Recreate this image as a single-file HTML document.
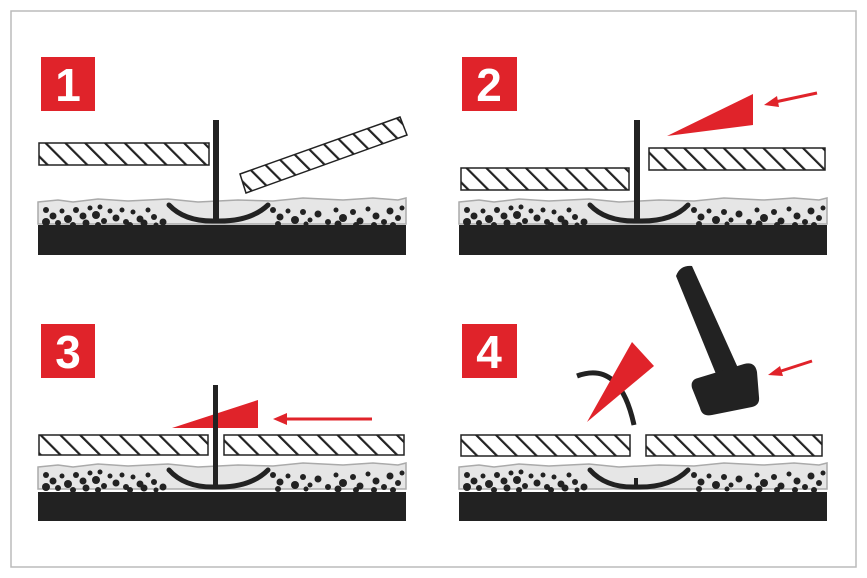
<!DOCTYPE html>
<html><head><meta charset="utf-8"><style>html,body{margin:0;padding:0;background:#fff}svg{display:block}</style></head>
<body>
<svg width="867" height="578" viewBox="0 0 867 578" xmlns="http://www.w3.org/2000/svg">
<defs>
<pattern id="h" patternUnits="userSpaceOnUse" width="14" height="14" patternTransform="rotate(-45)">
<rect width="14" height="14" fill="#fff"/><line x1="1" y1="0" x2="1" y2="14" stroke="#222" stroke-width="2.4"/>
</pattern>
<g id="gravel">
<path d="M0,0 l20,-2 l15,2 l25,-3 l30,2 l40,-2 l30,3 l40,-2 l35,1 l30,-3 l40,2 l30,-2 l25,2 l8,-2 l0,26 l-368,0z" fill="#e6e6e6" stroke="#aaa" stroke-width="1.5"/>
<g fill="#222">
<circle cx="8" cy="8" r="3"/><circle cx="15" cy="14" r="3.5"/><circle cx="24" cy="9" r="2.5"/><circle cx="30" cy="17" r="4"/><circle cx="38" cy="8" r="3"/><circle cx="45" cy="14" r="3.5"/><circle cx="52" cy="6" r="2.5"/><circle cx="58" cy="13" r="4"/><circle cx="66" cy="19" r="3"/><circle cx="72" cy="9" r="2.5"/><circle cx="78" cy="16" r="3.5"/><circle cx="88" cy="20" r="3"/><circle cx="95" cy="10" r="2.5"/><circle cx="102" cy="17" r="3.5"/><circle cx="110" cy="8" r="2.5"/><circle cx="116" cy="15" r="3"/><circle cx="125" cy="20" r="3.5"/>
<circle cx="8" cy="20" r="4"/><circle cx="20" cy="21" r="3"/><circle cx="48" cy="21" r="3.5"/><circle cx="62" cy="5" r="2.5"/><circle cx="84" cy="8" r="2.5"/><circle cx="106" cy="21" r="3.5"/><circle cx="118" cy="23" r="2.5"/><circle cx="35" cy="23" r="3"/><circle cx="60" cy="23" r="3"/><circle cx="92" cy="23" r="3"/>
<circle cx="235" cy="8" r="3"/><circle cx="242" cy="15" r="3.5"/><circle cx="250" cy="9" r="2.5"/><circle cx="257" cy="18" r="4"/><circle cx="265" cy="10" r="3"/><circle cx="272" cy="18" r="2.5"/><circle cx="280" cy="12" r="3.5"/><circle cx="290" cy="20" r="3"/><circle cx="298" cy="8" r="2.5"/><circle cx="305" cy="16" r="4"/><circle cx="315" cy="10" r="3"/><circle cx="322" cy="19" r="3.5"/><circle cx="330" cy="7" r="2.5"/><circle cx="338" cy="14" r="3.5"/><circle cx="346" cy="20" r="3"/><circle cx="352" cy="9" r="3.5"/><circle cx="360" cy="16" r="3"/><circle cx="364" cy="6" r="2.5"/>
<circle cx="240" cy="22" r="3"/><circle cx="268" cy="22" r="2.5"/><circle cx="300" cy="22" r="3.5"/><circle cx="336" cy="23" r="3"/><circle cx="318" cy="23" r="3"/><circle cx="355" cy="23" r="3"/>
</g>
</g>
</defs>
<rect x="11" y="11" width="845" height="556" fill="#fff" stroke="#bbb" stroke-width="1.5"/>

<!-- Panel 1 -->
<rect x="41" y="57" width="54" height="54" fill="#e0232a"/>
<text x="68" y="101" font-family="Liberation Sans, sans-serif" font-weight="bold" font-size="46" fill="#fff" text-anchor="middle">1</text>
<use href="#gravel" x="38" y="202"/>
<rect x="38" y="225" width="368" height="30" fill="#222"/>
<rect x="39" y="143" width="170" height="22" fill="url(#h)" stroke="#222" stroke-width="1.5"/>
<polygon points="240,174 400,117 407,135 246,193" fill="url(#h)" stroke="#222" stroke-width="1.5"/>
<path d="M169,205 Q185,222 216,221 Q250,222 268,205" fill="none" stroke="#222" stroke-width="5" stroke-linecap="round"/>
<rect x="213" y="120" width="6" height="102" fill="#222"/>

<!-- Panel 2 -->
<rect x="462" y="57" width="55" height="54" fill="#e0232a"/>
<text x="489" y="101" font-family="Liberation Sans, sans-serif" font-weight="bold" font-size="46" fill="#fff" text-anchor="middle">2</text>
<use href="#gravel" x="459" y="202"/>
<rect x="459" y="225" width="368" height="30" fill="#222"/>
<rect x="461" y="168" width="168" height="22" fill="url(#h)" stroke="#222" stroke-width="1.5"/>
<rect x="649" y="148" width="176" height="22" fill="url(#h)" stroke="#222" stroke-width="1.5"/>
<path d="M590,205 Q606,222 638,221 Q672,222 688,205" fill="none" stroke="#222" stroke-width="5" stroke-linecap="round"/>
<rect x="634" y="120" width="6" height="102" fill="#222"/>
<polygon points="667,136 753,94 753,125" fill="#e0232a"/>
<line x1="817" y1="93" x2="775" y2="102" stroke="#e0232a" stroke-width="3"/>
<polygon points="764,105 777,96 779,107" fill="#e0232a"/>

<!-- Panel 3 -->
<rect x="41" y="324" width="54" height="54" fill="#e0232a"/>
<text x="68" y="368" font-family="Liberation Sans, sans-serif" font-weight="bold" font-size="46" fill="#fff" text-anchor="middle">3</text>
<use href="#gravel" x="38" y="467"/>
<rect x="38" y="492" width="368" height="29" fill="#222"/>
<rect x="39" y="435" width="169" height="20" fill="url(#h)" stroke="#222" stroke-width="1.5"/>
<rect x="224" y="435" width="180" height="20" fill="url(#h)" stroke="#222" stroke-width="1.5"/>
<path d="M169,470 Q185,488 216,487 Q250,488 268,470" fill="none" stroke="#222" stroke-width="5" stroke-linecap="round"/>
<polygon points="172,428 258,400 258,428" fill="#e0232a"/>
<rect x="213" y="385" width="5" height="104" fill="#222"/>
<line x1="372" y1="419" x2="285" y2="419" stroke="#e0232a" stroke-width="3"/>
<polygon points="273,419 287,413 287,425" fill="#e0232a"/>

<!-- Panel 4 -->
<rect x="462" y="324" width="55" height="54" fill="#e0232a"/>
<text x="489" y="368" font-family="Liberation Sans, sans-serif" font-weight="bold" font-size="46" fill="#fff" text-anchor="middle">4</text>
<use href="#gravel" x="459" y="467"/>
<rect x="459" y="492" width="368" height="29" fill="#222"/>
<rect x="461" y="435" width="169" height="21" fill="url(#h)" stroke="#222" stroke-width="1.5"/>
<rect x="646" y="435" width="176" height="21" fill="url(#h)" stroke="#222" stroke-width="1.5"/>
<path d="M590,470 Q606,488 636,487 Q670,488 688,470" fill="none" stroke="#222" stroke-width="5" stroke-linecap="round"/>
<rect x="634" y="478" width="4" height="9" fill="#222"/>
<path d="M577,376 Q620,360 634,425" fill="none" stroke="#222" stroke-width="5"/>
<polygon points="587,422 632,342 654,366" fill="#e0232a"/>
<path d="M676,276 Q680,265 692,266 L738,368 L716,374z" fill="#222"/>
<path d="M698,378 L744,364 Q755,361 757,372 L759,397 Q760,405 752,407 L712,415 Q702,417 700,408 L692,388 Q690,380 698,378z" fill="#222"/>
<line x1="812" y1="361" x2="778" y2="372" stroke="#e0232a" stroke-width="3"/>
<polygon points="768,375 780,366 783,376" fill="#e0232a"/>
</svg>
</body></html>
